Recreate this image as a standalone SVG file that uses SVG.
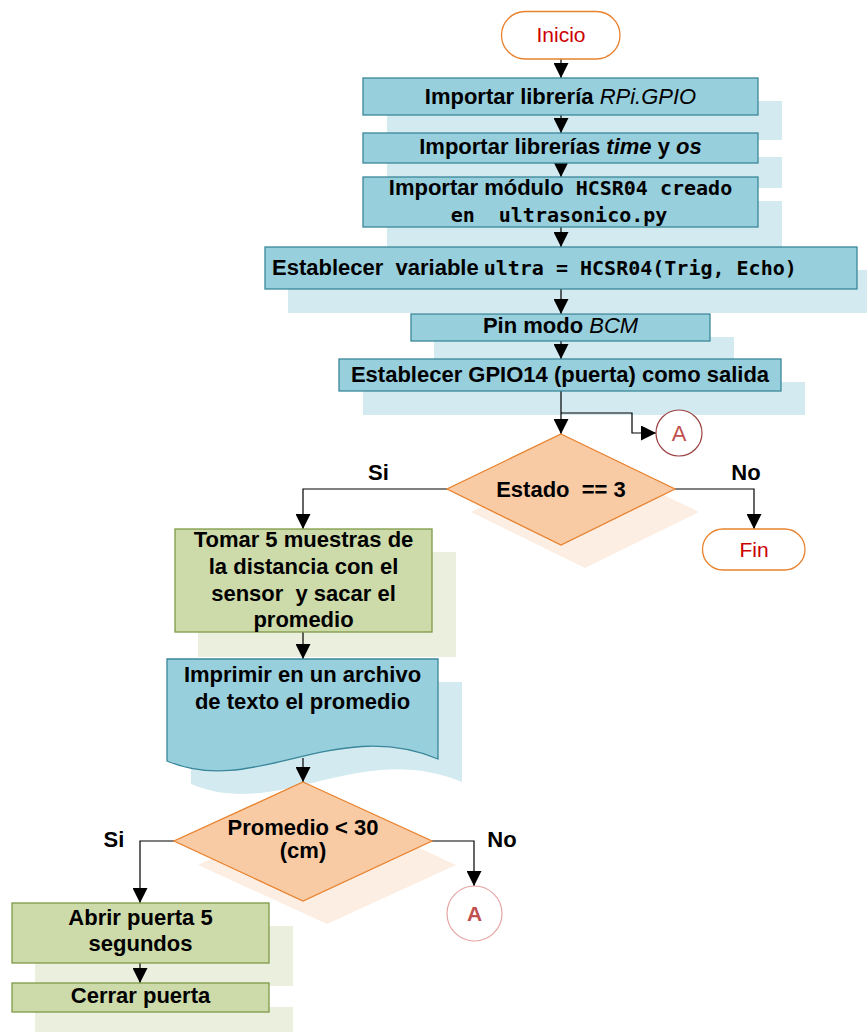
<svg xmlns="http://www.w3.org/2000/svg" width="867" height="1032" viewBox="0 0 867 1032">
  <defs>
    <style>
      .sh-blue { fill: #d3eaf0; }
      .sh-green { fill: #ebefdd; }
      .sh-dec { fill: #fdeee3; }
      .blue { fill: #98cfdd; stroke: #3a8799; stroke-width: 1.3; }
      .green { fill: #cddaa9; stroke: #7f9a47; stroke-width: 1.3; }
      .dec { fill: #f9cba4; stroke: #e8822e; stroke-width: 1.3; }
      .term { fill: #ffffff; stroke: #e8822e; stroke-width: 1.3; }
      .t { font-family: "Liberation Sans", Arial, sans-serif; font-size: 22px; font-weight: bold; fill: #000; text-anchor: middle; white-space: pre; }
      .mono { font-family: "DejaVu Sans Mono", "Liberation Mono", monospace; font-size: 20px; font-weight: bold; }
      .it { font-style: italic; font-weight: normal; }
      .bi { font-style: italic; font-weight: bold; }
      .tt { font-family: "Liberation Sans", Arial, sans-serif; font-size: 21px; fill: #cc0000; text-anchor: middle; }
      .conn { fill: none; stroke: #000; stroke-width: 1.2; }
    </style>
    <marker id="arr" markerWidth="15" markerHeight="15" refX="15" refY="7.5" orient="auto" markerUnits="userSpaceOnUse">
      <path d="M0,0 L15,7.5 L0,15 Z" fill="#000"/>
    </marker>
  </defs>

  <!-- drop shadows -->
  <g id="shadows">
    <rect class="sh-blue" x="387" y="101" width="395" height="39"/>
    <rect class="sh-blue" x="387" y="157" width="395" height="31"/>
    <rect class="sh-blue" x="387" y="201" width="395" height="49"/>
    <rect class="sh-blue" x="288" y="270" width="579" height="43"/>
    <rect class="sh-blue" x="434" y="337" width="300" height="26"/>
    <rect class="sh-blue" x="363" y="382" width="442" height="33"/>
    <polygon class="sh-dec" points="585,457 699,512 585,568 471,512"/>
    <rect class="sh-green" x="198" y="552" width="258" height="105"/>
    <path class="sh-blue" d="M191,682 H462 V782 C359,739 279,821 191,784 Z"/>
    <polygon class="sh-dec" points="327,805 456,865 327,924 198,865"/>
    <rect class="sh-green" x="35" y="926" width="258" height="60"/>
    <rect class="sh-green" x="35" y="1007" width="258" height="25"/>
  </g>

  <!-- connectors -->
  <g id="connectors">
    <line class="conn" x1="561" y1="59" x2="561" y2="78" marker-end="url(#arr)"/>
    <line class="conn" x1="561" y1="115" x2="561" y2="133" marker-end="url(#arr)"/>
    <line class="conn" x1="561" y1="163" x2="561" y2="177" marker-end="url(#arr)"/>
    <line class="conn" x1="561" y1="227" x2="561" y2="247" marker-end="url(#arr)"/>
    <line class="conn" x1="561" y1="289" x2="561" y2="314" marker-end="url(#arr)"/>
    <line class="conn" x1="561" y1="341" x2="561" y2="359" marker-end="url(#arr)"/>
    <line class="conn" x1="561" y1="391" x2="561" y2="434" marker-end="url(#arr)"/>
    <polyline class="conn" points="561,413 632,413 632,433 656,433" marker-end="url(#arr)"/>
    <polyline class="conn" points="447,489 303,489 303,529" marker-end="url(#arr)"/>
    <polyline class="conn" points="675,489 754,489 754,529" marker-end="url(#arr)"/>
    <line class="conn" x1="303" y1="632" x2="303" y2="659" marker-end="url(#arr)"/>
    <line class="conn" x1="303" y1="758" x2="303" y2="782" marker-end="url(#arr)"/>
    <polyline class="conn" points="174,841 140,841 140,903" marker-end="url(#arr)"/>
    <polyline class="conn" points="432,841 474,841 474,886" marker-end="url(#arr)"/>
    <line class="conn" x1="140" y1="963" x2="140" y2="983" marker-end="url(#arr)"/>
  </g>

  <g id="inicio">
    <rect class="term" x="501.5" y="11.5" width="118.5" height="47.5" rx="23.7"/>
    <text class="tt" x="561" y="42">Inicio</text>
  </g>

  <g id="importar-gpio">
    <rect class="blue" x="363" y="78" width="395" height="37"/>
    <text class="t" x="560.5" y="104">Importar librería <tspan class="it">RPi.GPIO</tspan></text>
  </g>

  <g id="importar-time-os">
    <rect class="blue" x="363" y="133" width="395" height="30"/>
    <text class="t" x="560.5" y="154">Importar librerías <tspan class="bi">time</tspan> y <tspan class="bi">os</tspan></text>
  </g>

  <g id="importar-modulo">
    <rect class="blue" x="363" y="177" width="395" height="50"/>
    <text class="t" x="560.5" y="195">Importar módulo<tspan class="mono"> HCSR04 creado</tspan></text>
    <text class="t mono" x="559" y="222">en  ultrasonico.py</text>
  </g>

  <g id="variable-ultra">
    <rect class="blue" x="265" y="247" width="592" height="42"/>
    <text class="t" x="272" y="275" style="text-anchor:start">Establecer  variable<tspan class="mono" dx="5">ultra = HCSR04(Trig, Echo)</tspan></text>
  </g>

  <g id="pin-bcm">
    <rect class="blue" x="411" y="314" width="299" height="27"/>
    <text class="t" x="560.5" y="333">Pin modo <tspan class="it">BCM</tspan></text>
  </g>

  <g id="gpio14">
    <rect class="blue" x="339" y="359" width="442" height="32"/>
    <text class="t" x="560" y="381.5">Establecer GPIO14 (puerta) como salida</text>
  </g>

  <g id="conector-a1">
    <circle cx="679" cy="433" r="23" fill="#fff" stroke="#9b4040" stroke-width="1.2"/>
    <text x="679" y="441" font-family="Liberation Sans, Arial, sans-serif" font-size="22" fill="#c0504d" text-anchor="middle">A</text>
  </g>

  <g id="estado">
    <polygon class="dec" points="561,434 675,489 561,545 447,489"/>
    <text class="t" x="561" y="497">Estado  == 3</text>
    <text class="t" x="378.5" y="480">Si</text>
    <text class="t" x="746" y="480">No</text>
  </g>

  <g id="fin">
    <rect class="term" x="702.5" y="529" width="102.5" height="41" rx="20.5"/>
    <text class="tt" x="754" y="557">Fin</text>
  </g>

  <g id="muestras">
    <rect class="green" x="175" y="529" width="257" height="103"/>
    <text class="t" x="303.5" y="547">Tomar 5 muestras de</text>
    <text class="t" x="303.5" y="574">la distancia con el</text>
    <text class="t" x="303.5" y="600.5">sensor  y sacar el</text>
    <text class="t" x="303.5" y="627">promedio</text>
  </g>

  <g id="imprimir">
    <path class="blue" d="M167,659 H438 V759 C335,716 255,798 167,761 Z"/>
    <text class="t" x="302.5" y="682">Imprimir en un archivo</text>
    <text class="t" x="302.5" y="709">de texto el promedio</text>
  </g>

  <g id="promedio">
    <polygon class="dec" points="303,782 432,841 303,901 174,841"/>
    <text class="t" x="303" y="835">Promedio &lt; 30</text>
    <text class="t" x="303" y="858">(cm)</text>
    <text class="t" x="114" y="847">Si</text>
    <text class="t" x="502" y="847">No</text>
  </g>

  <g id="conector-a2">
    <circle cx="474.5" cy="913.5" r="27.5" fill="#fff" stroke="#e6a5a5" stroke-width="1.2"/>
    <text x="474.5" y="920.5" font-family="Liberation Sans, Arial, sans-serif" font-size="21" font-weight="bold" fill="#c0504d" text-anchor="middle">A</text>
  </g>

  <g id="abrir">
    <rect class="green" x="12" y="903" width="257" height="60"/>
    <text class="t" x="140.5" y="925">Abrir puerta 5</text>
    <text class="t" x="140.5" y="950.5">segundos</text>
  </g>

  <g id="cerrar">
    <rect class="green" x="12" y="983" width="257" height="29"/>
    <text class="t" x="140.5" y="1003">Cerrar puerta</text>
  </g>
</svg>
